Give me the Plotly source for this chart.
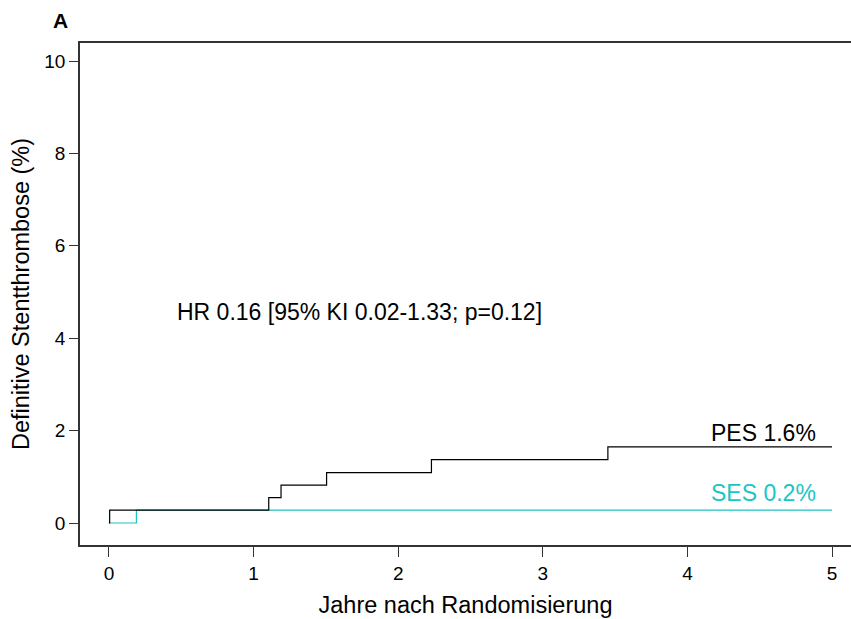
import plotly.graph_objects as go

# Data
pes_t = [0, 0.005, 1.105, 1.19, 1.505, 2.23, 3.45, 5.0]
pes_y = [0, 0.28, 0.55, 0.82, 1.09, 1.37, 1.65, 1.65]
ses_t = [0, 0.19, 5.0]
ses_y = [0, 0.28, 0.28]

x_ticks = [0, 1, 2, 3, 4, 5]
y_ticks = [0, 2, 4, 6, 8, 10]

teal = "#1CC4C4"
font = "Liberation Sans, Arial, sans-serif"

fig = go.Figure()
fig.add_trace(go.Scatter(x=ses_t, y=ses_y, mode="lines", line=dict(color=teal, width=1.2, shape="hv"),
                         showlegend=False, hoverinfo="skip"))
fig.add_trace(go.Scatter(x=pes_t, y=pes_y, mode="lines", line=dict(color="black", width=1.2, shape="hv"),
                         showlegend=False, hoverinfo="skip"))

fig.add_annotation(x=0.456, y=4.57, text="HR 0.16 [95% KI 0.02-1.33; p=0.12]", showarrow=False,
                   xanchor="left", yanchor="middle", font=dict(family=font, size=23, color="black"))
fig.add_annotation(x=4.9, y=1.95, text="PES 1.6%", showarrow=False, xanchor="right", yanchor="middle",
                   font=dict(family=font, size=23, color="black"))
fig.add_annotation(x=4.9, y=0.65, text="SES 0.2%", showarrow=False, xanchor="right", yanchor="middle",
                   font=dict(family=font, size=23, color=teal))
fig.add_annotation(x=(60 - 80) / 771, y=(545 - 20) / 502, xref="paper", yref="paper",
                   text="<b>A</b>", showarrow=False, xanchor="center", yanchor="middle",
                   font=dict(family=font, size=21, color="black"))

fig.update_layout(
    width=851, height=619,
    margin=dict(l=80, r=0, t=43, b=74),
    paper_bgcolor="white", plot_bgcolor="white",
    font=dict(family=font, size=19, color="black"),
    xaxis=dict(range=[-0.2, 5.131], tickvals=x_ticks, ticks="outside", ticklen=10, tickcolor="#333",
               showline=True, linecolor="#333", linewidth=1.5, mirror=True, showgrid=False, zeroline=False,
               automargin=False,
               title=dict(text="Jahre nach Randomisierung", font=dict(size=23.5), standoff=14),
               tickfont=dict(size=19)),
    yaxis=dict(range=[-0.476, 10.39], tickvals=y_ticks, ticks="outside", ticklen=9, tickcolor="#333",
               showline=True, linecolor="#333", linewidth=1.5, mirror=False, showgrid=False, zeroline=False,
               automargin=False,
               title=dict(text="Definitive Stentthrombose (%)", font=dict(size=23.5), standoff=8),
               tickfont=dict(size=19)),
)

fig.write_html("out.html", config={"displayModeBar": False},
               post_script="document.body.style.margin='0px';document.body.style.overflow='hidden';")
